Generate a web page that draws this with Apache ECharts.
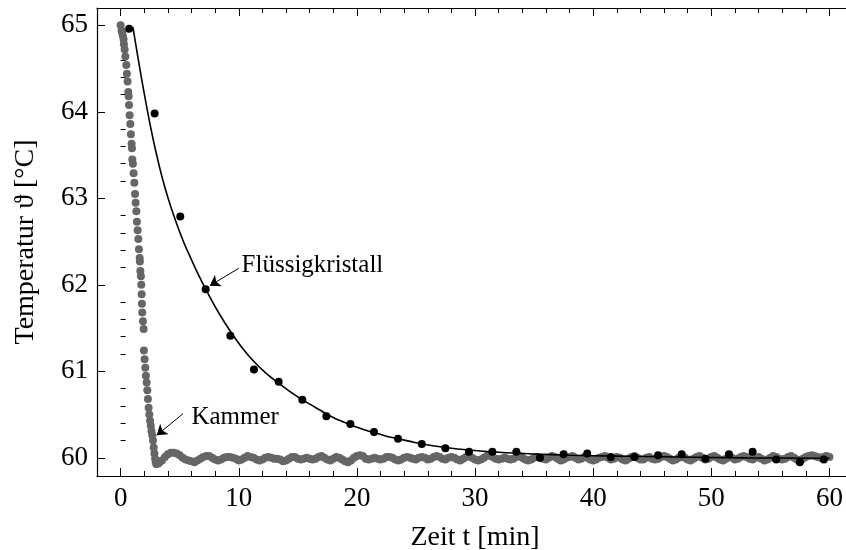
<!DOCTYPE html>
<html>
<head>
<meta charset="utf-8">
<script src="https://cdn.jsdelivr.net/npm/echarts@6/dist/echarts.min.js"></script>
<style>
html, body { margin: 0; padding: 0; background: #fff; }
#chart { width: 846px; height: 550px; }
</style>
</head>
<body>
<div id="chart"></div>
<script>
// Kammer: schneller Abfall (Zeit in min, Temperatur in °C)
const kammerDropTime = [0.00, 0.08, 0.14, 0.19, 0.25, 0.28, 0.34, 0.40, 0.48, 0.53,
  0.59, 0.65, 0.68, 0.71, 0.76, 0.82, 0.87, 0.93, 0.96, 0.99,
  1.04, 1.10, 1.16, 1.22, 1.27, 1.33, 1.38, 1.44, 1.50, 1.55,
  1.61, 1.63, 1.67, 1.72, 1.75, 1.78, 1.80, 1.83, 1.89, 1.95,
  1.97, 2.03, 2.09, 2.14, 2.20, 2.26, 2.31, 2.37, 2.43, 2.49,
  2.55, 2.61, 2.68, 2.74, 2.80, 2.86, 2.92, 2.97, 3.02, 3.08,
  3.14, 3.20]
const kammerDropTemp = [65.00, 64.94, 64.91, 64.88, 64.84, 64.78, 64.72, 64.64, 64.54, 64.44,
  64.35, 64.23, 64.18, 64.08, 63.96, 63.86, 63.74, 63.63, 63.58, 63.45,
  63.40, 63.29, 63.18, 63.05, 62.95, 62.85, 62.73, 62.63, 62.53, 62.41,
  62.31, 62.27, 62.16, 62.10, 62.00, 61.89, 61.78, 61.68, 61.58, 61.49,
  61.24, 61.14, 61.04, 60.95, 60.87, 60.78, 60.68, 60.58, 60.50, 60.43,
  60.37, 60.31, 60.26, 60.20, 60.12, 60.05, 59.99, 59.95, 59.93, 59.93,
  59.94, 59.94]

// Kammer danach, alle 0.25 min ab 3.25 min
const kammerTailStart = 3.25
const kammerTailStep = 0.25
const kammerTailTemp = [
  59.94, 59.97, 60.01, 60.04, 60.06, 60.06, 60.05, 60.03, 60.00, 59.98, 59.97, 59.96, 59.95, 59.97, 59.99, 60.01, 60.02, 60.02, 60.00, 59.98,
  59.97, 59.98, 60.00, 60.01, 60.01, 60.00, 59.99, 59.97, 59.98, 60.00, 60.02, 60.01, 60.00, 59.98, 59.97, 59.98, 60.00, 60.01, 60.00, 59.99,
  59.99, 59.98, 59.96, 59.97, 59.99, 60.01, 60.01, 59.99, 59.98, 59.99, 60.00, 59.99, 59.98, 59.99, 60.01, 60.02, 60.00, 59.98, 59.97, 59.99,
  60.01, 60.00, 59.98, 59.96, 59.95, 59.97, 60.00, 60.02, 60.03, 60.02, 59.99, 59.98, 59.99, 60.00, 59.99, 59.98, 59.99, 60.01, 60.01, 60.00,
  59.98, 59.97, 59.98, 60.00, 60.01, 60.00, 59.99, 59.98, 60.00, 60.01, 60.00, 59.98, 59.99, 60.01, 60.02, 60.01, 59.99, 59.98, 60.00, 60.01,
  60.00, 59.98, 59.97, 59.99, 60.01, 60.02, 60.00, 59.98, 59.97, 59.98, 60.00, 60.02, 60.03, 60.01, 59.99, 59.98, 59.99, 60.00, 59.99, 59.98,
  59.99, 60.01, 60.02, 60.00, 59.98, 59.97, 59.98, 60.00, 60.01, 60.00, 59.99, 59.98, 60.00, 60.02, 60.01, 59.99, 59.97, 59.98, 60.00, 60.01,
  60.02, 60.00, 59.98, 59.99, 60.01, 60.00, 59.98, 59.97, 59.98, 60.00, 60.01, 60.02, 60.00, 59.98, 59.99, 60.01, 60.00, 59.98, 59.97, 59.99,
  60.01, 60.02, 60.00, 59.98, 59.98, 60.00, 60.01, 59.99, 59.98, 59.99, 60.01, 60.02, 60.01, 59.99, 59.97, 59.98, 60.00, 60.01, 60.00, 59.98,
  59.97, 59.99, 60.01, 60.02, 60.00, 59.98, 59.99, 60.01, 60.02, 60.00, 59.98, 59.97, 59.99, 60.01, 60.00, 59.98, 59.99, 60.01, 60.02, 60.01,
  59.99, 59.98, 60.00, 60.01, 59.99, 59.97, 59.98, 60.00, 60.02, 60.01, 59.99, 59.98, 59.99, 60.01, 60.02, 60.00, 59.98, 59.97, 59.99, 60.01,
  60.02, 60.03, 60.02, 60.01, 60.00, 60.01, 60.02, 60.01]

// Flüssigkristall: Messpunkte
const lcTime = [0.72, 2.88, 5.05, 7.20, 9.29, 11.29, 13.38, 15.38, 17.42, 19.45,
  21.45, 23.48, 25.49, 27.49, 29.49, 31.47, 33.50, 35.50, 37.50, 39.50,
  41.50, 43.50, 45.50, 47.50, 49.50, 51.50, 53.50, 55.50, 57.50, 59.53]
const lcTemp = [64.96, 63.98, 62.79, 61.95, 61.41, 61.02, 60.88, 60.67, 60.48, 60.39,
  60.30, 60.22, 60.16, 60.11, 60.07, 60.07, 60.07, 60.00, 60.04, 60.05,
  60.01, 60.01, 60.03, 60.04, 59.99, 60.04, 60.07, 59.98, 59.95, 59.98]

// Fitkurve
const fitTime = [1.04, 1.5, 2.0, 2.5, 3.0, 3.5, 4.0, 4.5, 5.0, 5.5, 6.0, 6.5, 7.2,
  8.2, 9.3, 10.3, 11.3, 12.3, 13.4, 14.4, 15.4, 16.4, 17.4, 18.4, 19.5, 20.5,
  21.5, 22.5, 23.5, 24.5, 25.5, 27.5, 29.5, 32, 35, 38, 42, 47, 53, 60]
const fitTemp = [64.98, 64.60, 64.21, 63.85, 63.53, 63.25, 63.01, 62.80, 62.61, 62.44, 62.29, 62.14, 61.95,
  61.70, 61.46, 61.27, 61.11, 60.98, 60.86, 60.76, 60.67, 60.59, 60.51, 60.44, 60.38, 60.33,
  60.29, 60.25, 60.22, 60.19, 60.16, 60.12, 60.09, 60.065, 60.045, 60.03, 60.02, 60.01, 60.00, 59.995]

// Achsen
const xMajorTicks = [0, 10, 20, 30, 40, 50, 60]
const xMinorTicks = [2, 4, 6, 8, 12, 14, 16, 18, 22, 24, 26, 28, 32, 34, 36, 38, 42, 44, 46, 48, 52, 54, 56, 58]
const yMajorTicks = [60, 61, 62, 63, 64, 65]
const yMinorTicks = [60.2, 60.4, 60.6, 60.8, 61.2, 61.4, 61.6, 61.8, 62.2, 62.4, 62.6, 62.8,
  63.2, 63.4, 63.6, 63.8, 64.2, 64.4, 64.6, 64.8]

const chart = echarts.init(document.getElementById('chart'))

const kammerData = kammerDropTime.map((t, i) => [t, kammerDropTemp[i]])
kammerTailTemp.forEach((v, i) => kammerData.push([kammerTailStart + i * kammerTailStep, v]))
const lcData = lcTime.map((t, i) => [t, lcTemp[i]])
const fitData = fitTime.map((t, i) => [t, fitTemp[i]])

const FONT = 'Liberation Serif'
const xMin = -2, xMax = 62, yMin = 59.79, yMax = 65.2

const gridPos = { left: 97, top: 8, right: -7, bottom: 74, outerBoundsMode: 'none' }

const baseX = (pos, ticks, len, withLabel, showLine) => ({
  type: 'value', position: pos, min: xMin, max: xMax,
  axisLine: { show: showLine, onZero: false, lineStyle: { color: '#000', width: 1.2 } },
  axisTick: { show: true, inside: true, length: len, customValues: ticks, lineStyle: { color: '#000', width: 1 } },
  axisLabel: withLabel ? { show: true, customValues: ticks, margin: 9, color: '#000', fontFamily: FONT, fontSize: 27 } : { show: false },
  splitLine: { show: false }
})

const option = {
  animation: false,
  backgroundColor: '#fff',
  grid: [Object.assign({}, gridPos), Object.assign({}, gridPos)],
  xAxis: [
    Object.assign(baseX('bottom', xMajorTicks, 8, true, true), {
      gridIndex: 0, name: 'Zeit t [min]', nameLocation: 'middle', nameGap: 48,
      nameTextStyle: { color: '#000', fontFamily: FONT, fontSize: 28 }
    }),
    Object.assign(baseX('top', xMajorTicks, 8, false, true), { gridIndex: 0 }),
    Object.assign(baseX('bottom', xMinorTicks, 5, false, false), { gridIndex: 1 }),
    Object.assign(baseX('top', xMinorTicks, 5, false, false), { gridIndex: 1 })
  ],
  yAxis: [
    {
      type: 'value', gridIndex: 0, position: 'left', min: yMin, max: yMax,
      name: 'Temperatur ϑ [°C]', nameLocation: 'middle', nameGap: 57, nameRotate: 90,
      nameTextStyle: { color: '#000', fontFamily: FONT, fontSize: 28 },
      axisLine: { show: true, onZero: false, lineStyle: { color: '#000', width: 1.2 } },
      axisTick: { show: true, inside: true, length: 8, customValues: yMajorTicks, lineStyle: { color: '#000' } },
      axisLabel: { show: true, customValues: yMajorTicks, margin: 9, color: '#000', fontFamily: FONT, fontSize: 27 },
      splitLine: { show: false }
    },
    {
      type: 'value', gridIndex: 1, position: 'left', min: yMin, max: yMax,
      axisLine: { show: false },
      axisTick: { show: true, inside: true, length: 5, customValues: yMinorTicks, lineStyle: { color: '#000' } },
      axisLabel: { show: false },
      splitLine: { show: false }
    }
  ],
  series: [
    {
      name: 'Kammer', type: 'scatter', xAxisIndex: 0, yAxisIndex: 0,
      data: kammerData, symbolSize: 8, itemStyle: { color: '#666666', opacity: 1 }, z: 2, silent: true
    },
    {
      name: 'Fit', type: 'line', xAxisIndex: 0, yAxisIndex: 0,
      data: fitData, smooth: 0.3, showSymbol: false,
      lineStyle: { color: '#000', width: 1.6 }, z: 3, silent: true
    },
    {
      name: 'Flüssigkristall', type: 'scatter', xAxisIndex: 0, yAxisIndex: 0,
      data: lcData, symbolSize: 8, itemStyle: { color: '#000', opacity: 1 }, z: 4, silent: true
    },
    {
      name: 'Beschriftung', type: 'scatter', xAxisIndex: 0, yAxisIndex: 0,
      data: [[10.2, 62.22, 'Flüssigkristall'], [5.95, 60.47, 'Kammer']],
      symbolSize: 1, itemStyle: { color: 'rgba(0,0,0,0)', opacity: 1 }, z: 5, silent: true,
      label: {
        show: true, position: 'right', distance: 0, color: '#000', opacity: 1,
        textBorderWidth: 0, fontFamily: FONT, fontSize: 25,
        formatter: p => p.value[2]
      },
      markLine: {
        silent: true, symbol: ['none', 'arrow'], symbolSize: 10,
        label: { show: false },
        lineStyle: { color: '#000', width: 1, type: 'solid', opacity: 1 },
        data: [
          [{ coord: [9.99, 62.19] }, { coord: [7.55, 61.99] }],
          [{ coord: [5.28, 60.51] }, { coord: [3.05, 60.26] }]
        ]
      }
    }
  ]
}

chart.setOption(option)
</script>
</body>
</html>
